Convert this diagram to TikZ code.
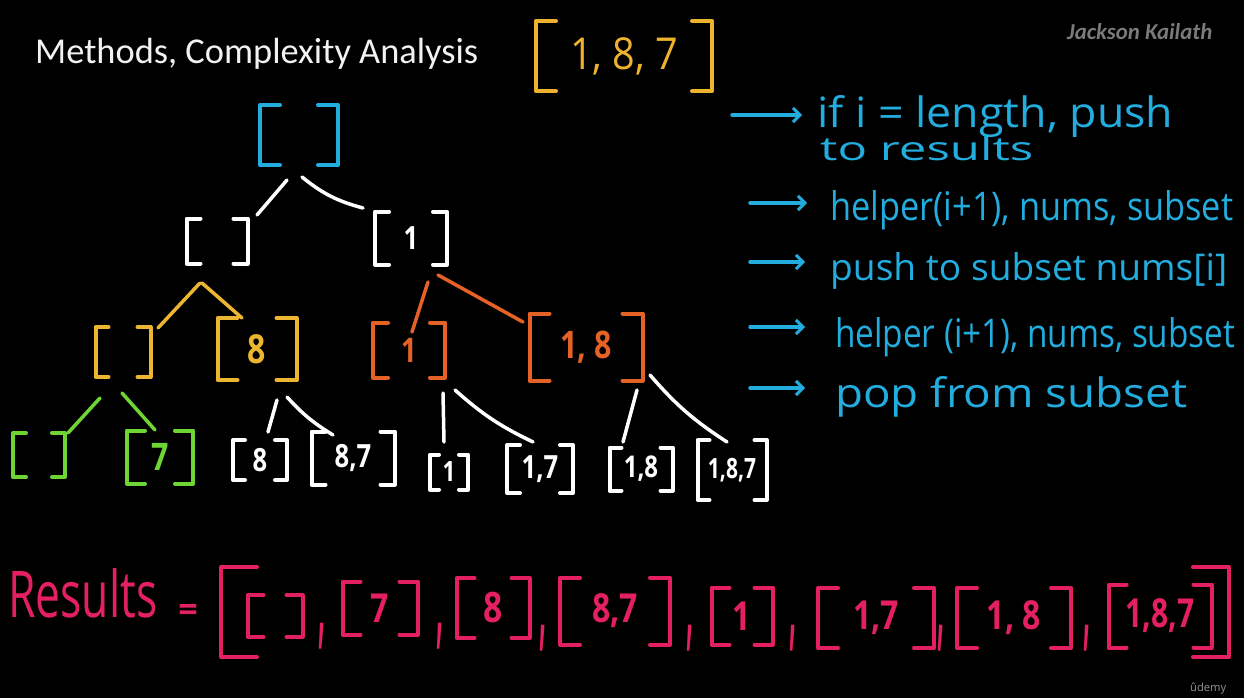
\documentclass[tikz,border=0pt]{standalone}
\usepackage{fontspec}
\usepackage{graphicx}
\setmainfont{Open Sans}
\newfontfamily\titlefont{Carlito}
\usetikzlibrary{calc,arrows.meta}

\definecolor{cyanT}{RGB}{35,172,222}
\definecolor{yelA}{RGB}{238,178,44}
\definecolor{yelB}{RGB}{236,182,48}
\definecolor{org}{RGB}{228,98,38}
\definecolor{grn}{RGB}{110,214,52}
\definecolor{pnk}{RGB}{228,32,98}
\definecolor{titlegray}{RGB}{242,242,242}
\definecolor{authorgray}{RGB}{122,122,122}
\definecolor{brandgray}{RGB}{150,150,150}

\tikzset{
  item/.style={inner sep=0pt, outer sep=0pt},
  brk/.style={line width=4pt, line cap=round, line join=round},
  link/.style={line width=3.5pt, line cap=round},
  hw/.style={anchor=base west, inner sep=0pt, text=cyanT},
  bul/.style={line width=3.5pt, line cap=round, draw=cyanT,
    -{Straight Barb[length=7pt,width=14pt,line width=3pt]}},
  comma/.style={inner sep=0pt, text=pnk, font=\bfseries},
}

% bracketed list: colour, name, centre, width, height, arm, font size, x-condense, entries
\newcommand\lst[9]{%
  \node[item, text=#1, minimum width=#4pt, minimum height=#5pt,
        font=\fontsize{#7}{#7}\selectfont\bfseries] (#2) at #3 {\scalebox{#8}[1]{#9}};
  \draw[brk, draw=#1] ([xshift=#6pt]#2.north west) -- (#2.north west)
        -- (#2.south west) -- ([xshift=#6pt]#2.south west);
  \draw[brk, draw=#1] ([xshift=-#6pt]#2.north east) -- (#2.north east)
        -- (#2.south east) -- ([xshift=-#6pt]#2.south east);
}

\begin{document}
\begin{tikzpicture}[x=1pt,y=-1pt]
\fill[black] (0,0) rectangle (1244,698);
\useasboundingbox (0,0) rectangle (1244,698);

% headings
\node[anchor=base west, inner sep=0pt, text=titlegray] (title) at (35,64)
  {\resizebox{443pt}{!}{\titlefont Methods, Complexity Analysis}};
\node[anchor=base west, inner sep=0pt, text=authorgray] (author) at (1067,40)
  {\resizebox{145pt}{!}{\titlefont\bfseries\itshape Jackson Kailath}};
\node[anchor=base west, inner sep=0pt, text=brandgray] (brand) at (1190,691)
  {\resizebox{36pt}{!}{ûdemy}};

% input array
\lst{yelA}{arr}{(624,56)}{176}{70}{20}{44}{0.9}{\mdseries 1, 8, 7}

% recursion tree
\lst{cyanT}{root}{(299,135)}{78}{60}{20}{30}{0.8}{}
\lst{white}{l1a}{(217,241)}{61}{45}{14}{30}{0.8}{}
\lst{white}{l1b}{(411,238)}{72}{53}{14}{32}{0.8}{1}
\lst{yelB}{l2a}{(123,352)}{55}{50}{13}{30}{0.8}{}
\lst{yelB}{l2b}{(257,349)}{79}{62}{20}{40}{0.8}{8}
\lst{org}{l2c}{(409,350)}{72}{55}{15}{34}{0.8}{1}
\lst{org}{l2d}{(586,347)}{113}{67}{20}{38}{0.8}{1, 8}
\lst{grn}{l3a}{(39,455)}{52}{44}{13}{30}{0.8}{}
\lst{grn}{l3b}{(160,457)}{66}{53}{18}{38}{0.8}{7}
\lst{white}{l3c}{(260,460)}{54}{40}{12}{32}{0.8}{8}
\lst{white}{l3d}{(353,458)}{83}{53}{14}{32}{0.8}{8,7}
\lst{white}{l3e}{(449,472)}{38}{35}{9}{28}{0.8}{1}
\lst{white}{l3f}{(540,469)}{66}{48}{13}{32}{0.8}{1,7}
\lst{white}{l3g}{(641,469)}{63}{43}{12}{30}{0.8}{1,8}
\lst{white}{l3h}{(732,470)}{69}{60}{12}{28}{0.75}{1,8,7}

\draw[link, white] ($(root.south)+(-12,15)$) -- ($(l1a.north east)+(9.5,-3.5)$);
\draw[link, white] ($(root.south)+(3,12)$) to[bend right=12] ($(l1b.north west)+(-12,-3.5)$);
\draw[link, yelB] ($(l1a.south)+(-17,19.5)$) -- ($(l2a.north east)+(7.5,1)$);
\draw[link, yelB] ($(l1a.south)+(-15,19.5)$) -- ($(l2b.north)+(-15,0)$);
\draw[link, org] ($(l1b.south)+(17,17.5)$) -- ($(l2c.north)+(3,9.5)$);
\draw[link, org] ($(l1b.south)+(27,10.5)$) -- ($(l2d.north west)+(-6.5,8.5)$);
\draw[link, grn] ($(l2a.south)+(-23,21)$) -- ($(l3a.north east)+(3,0)$);
\draw[link, grn] ($(l2a.south)+(-1,16)$) -- ($(l3b.north)+(-5,-0.5)$);
\draw[link, white] ($(l2b.south)+(20,20)$) -- ($(l3c.north)+(8,-8)$);
\draw[link, white] ($(l2b.south)+(30,17)$) to[bend right=8] ($(l3d.north)+(-20,3.5)$);
\draw[link, white] ($(l2c.south)+(34,15.5)$) -- ($(l3e.north)+(-5,-12.5)$);
\draw[link, white] ($(l2c.south)+(46,12.5)$) to[bend right=8] ($(l3f.north)+(-7,-3)$);
\draw[link, white] ($(l2d.south)+(51,9.5)$) -- ($(l3g.north)+(-18,-5.5)$);
\draw[link, white] ($(l2d.south east)+(7.5,-5.5)$) to[bend right=8] ($(l3h.north)+(-5,2)$);

% algorithm steps
\node[hw] (t1) at (817,128) {\resizebox{356pt}{32pt}{if i = length, push}};
\node[hw] (t2) at (820,160) {\resizebox{213pt}{25pt}{to results}};
\node[hw] (t3) at (830,220) {\resizebox{403pt}{30pt}{helper(i+1), nums, subset}};
\node[hw] (t4) at (830,280) {\resizebox{397pt}{28pt}{push to subset nums[i]}};
\node[hw] (t5) at (835,347) {\resizebox{400pt}{30pt}{helper (i+1), nums, subset}};
\node[hw] (t6) at (835,407) {\resizebox{352pt}{31pt}{pop from subset}};

\draw[bul] ($(t1.base west)+(-85,-13)$) -- ($(t1.base west)+(-15,-13)$);
\draw[bul] ($(t3.base west)+(-80,-17)$) -- ($(t3.base west)+(-23,-17)$);
\draw[bul] ($(t4.base west)+(-80,-18)$) -- ($(t4.base west)+(-25,-18)$);
\draw[bul] ($(t5.base west)+(-85,-20)$) -- ($(t5.base west)+(-30,-20)$);
\draw[bul] ($(t6.base west)+(-85,-19)$) -- ($(t6.base west)+(-30,-19)$);

% collected results
\node[anchor=base west, inner sep=0pt, text=pnk] (reslbl) at (8,617)
  {\resizebox{149pt}{49pt}{Results}};
\node[inner sep=0pt, text=pnk, font=\fontsize{34}{34}\selectfont\bfseries] (eq) at (188,613) {=};
\lst{pnk}{resall}{(725,612)}{1008}{90}{36}{30}{1}{}
\lst{pnk}{r1}{(275,616)}{55}{42}{16}{40}{0.8}{}
\lst{pnk}{r2}{(380,608)}{75}{53}{18}{40}{0.8}{7}
\lst{pnk}{r3}{(493,608)}{73}{60}{18}{42}{0.8}{8}
\lst{pnk}{r4}{(615,611)}{110}{67}{20}{40}{0.8}{8,7}
\lst{pnk}{r5}{(742,616)}{61}{57}{18}{40}{0.8}{1}
\lst{pnk}{r6}{(876,618)}{116}{60}{20}{40}{0.8}{1,7}
\lst{pnk}{r7}{(1014,618)}{114}{60}{20}{40}{0.8}{1, 8}
\lst{pnk}{r8}{(1160,616)}{103}{63}{18}{40}{0.75}{1,8,7}

\node[comma] (c1) at (322,636) {\resizebox*{7pt}{26pt}{,}};
\node[comma] (c2) at (440,636) {\resizebox*{7pt}{26pt}{,}};
\node[comma] (c3) at (543,638) {\resizebox*{7pt}{26pt}{,}};
\node[comma] (c4) at (690,638) {\resizebox*{7pt}{26pt}{,}};
\node[comma] (c5) at (793,638) {\resizebox*{7pt}{26pt}{,}};
\node[comma] (c6) at (941,638) {\resizebox*{7pt}{26pt}{,}};
\node[comma] (c7) at (1087,638) {\resizebox*{7pt}{26pt}{,}};
\end{tikzpicture}
\end{document}
